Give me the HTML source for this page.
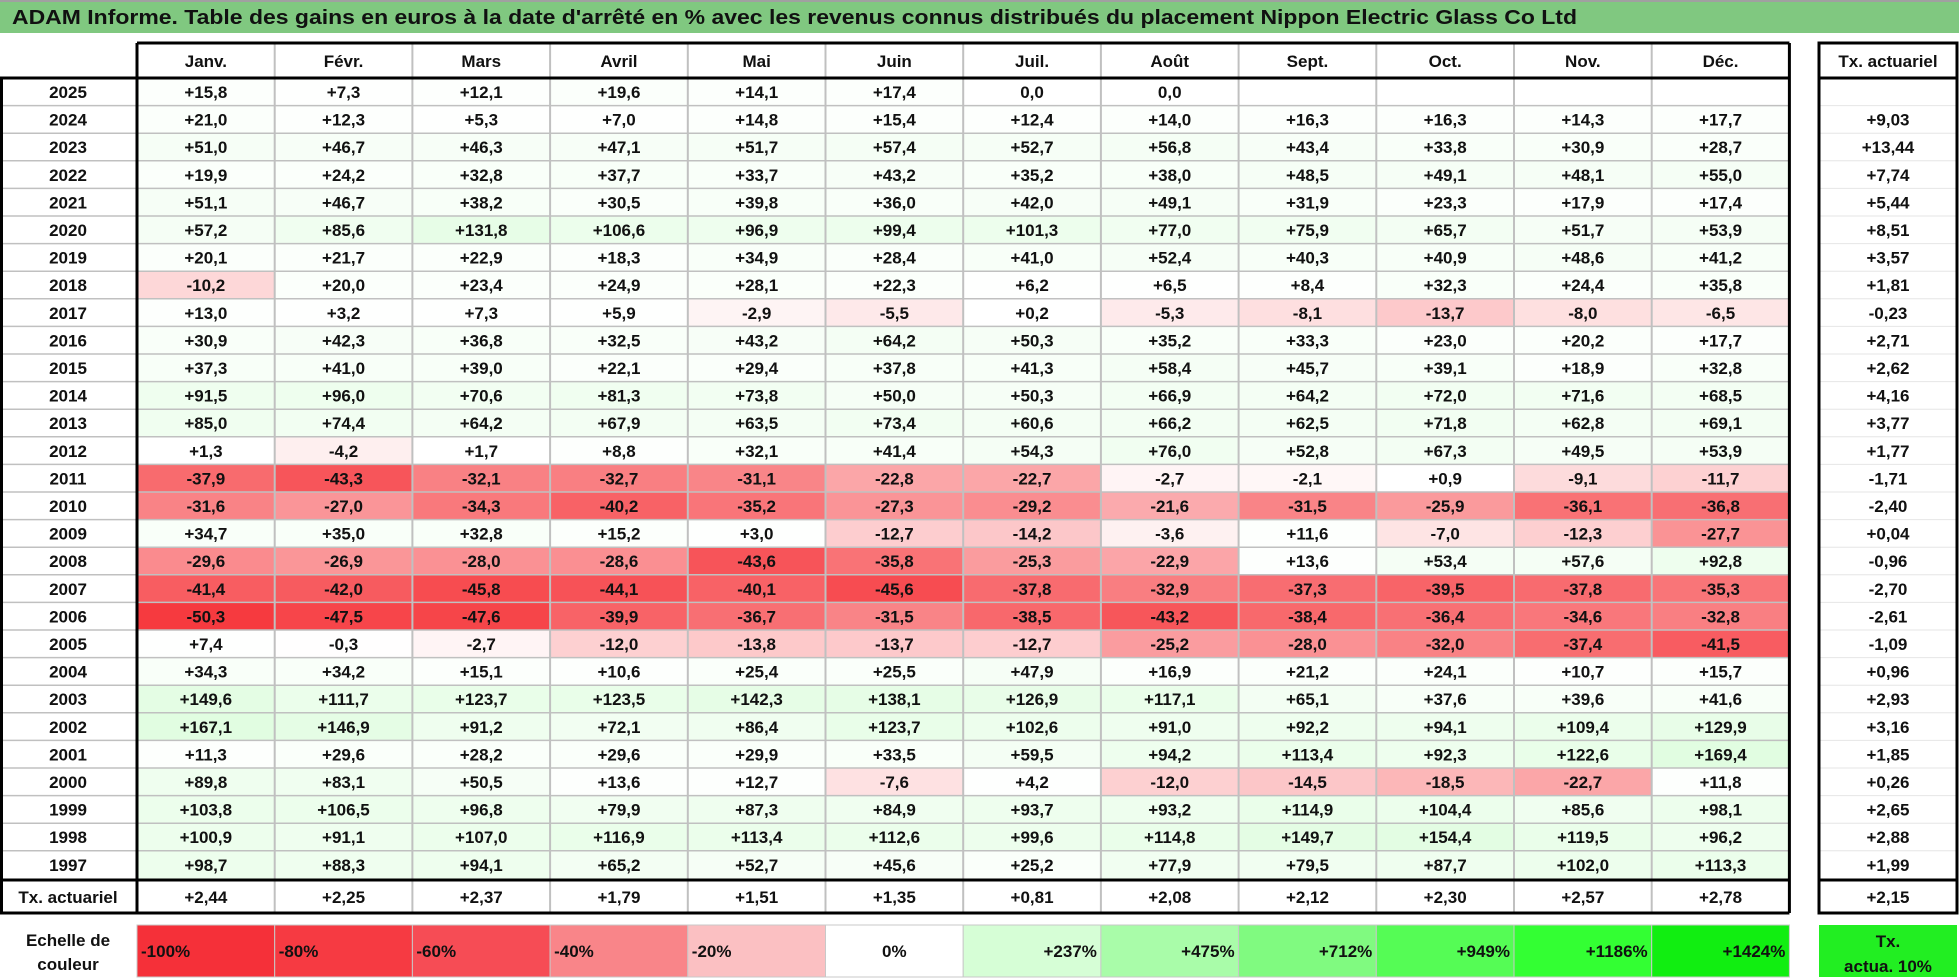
<!DOCTYPE html>
<html><head><meta charset="utf-8"><style>
html,body{margin:0;padding:0;background:#fff;}
svg{display:block;font-family:"Liberation Sans",Arial,sans-serif;font-weight:bold;}
</style></head><body>
<svg id="chart" width="1959" height="978" viewBox="0 0 1959 978" xmlns="http://www.w3.org/2000/svg">
<rect x="0" y="0" width="1959" height="33" fill="#80c880"/>
<line x1="0" y1="1" x2="1959" y2="1" stroke="#a0a0a0" stroke-width="2"/>
<text x="12" y="24" font-size="20" fill="#111" textLength="1565" lengthAdjust="spacingAndGlyphs">ADAM Informe. Table des gains en euros à la date d'arrêté en % avec les revenus connus distribués du placement Nippon Electric Glass Co Ltd</text>
<g id="cells"></g>
<g id="lines"></g>
<g id="texts"></g>
</svg>
<script>
const months = ["Janv.","Févr.","Mars","Avril","Mai","Juin","Juil.","Août","Sept.","Oct.","Nov.","Déc."];
const years = [2025,2024,2023,2022,2021,2020,2019,2018,2017,2016,2015,2014,2013,2012,2011,2010,2009,2008,2007,2006,2005,2004,2003,2002,2001,2000,1999,1998,1997];
const gains = [
[15.8,7.3,12.1,19.6,14.1,17.4,0.0,0.0,null,null,null,null],
[21.0,12.3,5.3,7.0,14.8,15.4,12.4,14.0,16.3,16.3,14.3,17.7],
[51.0,46.7,46.3,47.1,51.7,57.4,52.7,56.8,43.4,33.8,30.9,28.7],
[19.9,24.2,32.8,37.7,33.7,43.2,35.2,38.0,48.5,49.1,48.1,55.0],
[51.1,46.7,38.2,30.5,39.8,36.0,42.0,49.1,31.9,23.3,17.9,17.4],
[57.2,85.6,131.8,106.6,96.9,99.4,101.3,77.0,75.9,65.7,51.7,53.9],
[20.1,21.7,22.9,18.3,34.9,28.4,41.0,52.4,40.3,40.9,48.6,41.2],
[-10.2,20.0,23.4,24.9,28.1,22.3,6.2,6.5,8.4,32.3,24.4,35.8],
[13.0,3.2,7.3,5.9,-2.9,-5.5,0.2,-5.3,-8.1,-13.7,-8.0,-6.5],
[30.9,42.3,36.8,32.5,43.2,64.2,50.3,35.2,33.3,23.0,20.2,17.7],
[37.3,41.0,39.0,22.1,29.4,37.8,41.3,58.4,45.7,39.1,18.9,32.8],
[91.5,96.0,70.6,81.3,73.8,50.0,50.3,66.9,64.2,72.0,71.6,68.5],
[85.0,74.4,64.2,67.9,63.5,73.4,60.6,66.2,62.5,71.8,62.8,69.1],
[1.3,-4.2,1.7,8.8,32.1,41.4,54.3,76.0,52.8,67.3,49.5,53.9],
[-37.9,-43.3,-32.1,-32.7,-31.1,-22.8,-22.7,-2.7,-2.1,0.9,-9.1,-11.7],
[-31.6,-27.0,-34.3,-40.2,-35.2,-27.3,-29.2,-21.6,-31.5,-25.9,-36.1,-36.8],
[34.7,35.0,32.8,15.2,3.0,-12.7,-14.2,-3.6,11.6,-7.0,-12.3,-27.7],
[-29.6,-26.9,-28.0,-28.6,-43.6,-35.8,-25.3,-22.9,13.6,53.4,57.6,92.8],
[-41.4,-42.0,-45.8,-44.1,-40.1,-45.6,-37.8,-32.9,-37.3,-39.5,-37.8,-35.3],
[-50.3,-47.5,-47.6,-39.9,-36.7,-31.5,-38.5,-43.2,-38.4,-36.4,-34.6,-32.8],
[7.4,-0.3,-2.7,-12.0,-13.8,-13.7,-12.7,-25.2,-28.0,-32.0,-37.4,-41.5],
[34.3,34.2,15.1,10.6,25.4,25.5,47.9,16.9,21.2,24.1,10.7,15.7],
[149.6,111.7,123.7,123.5,142.3,138.1,126.9,117.1,65.1,37.6,39.6,41.6],
[167.1,146.9,91.2,72.1,86.4,123.7,102.6,91.0,92.2,94.1,109.4,129.9],
[11.3,29.6,28.2,29.6,29.9,33.5,59.5,94.2,113.4,92.3,122.6,169.4],
[89.8,83.1,50.5,13.6,12.7,-7.6,4.2,-12.0,-14.5,-18.5,-22.7,11.8],
[103.8,106.5,96.8,79.9,87.3,84.9,93.7,93.2,114.9,104.4,85.6,98.1],
[100.9,91.1,107.0,116.9,113.4,112.6,99.6,114.8,149.7,154.4,119.5,96.2],
[98.7,88.3,94.1,65.2,52.7,45.6,25.2,77.9,79.5,87.7,102.0,113.3]
];
const yearRates = [null,9.03,13.44,7.74,5.44,8.51,3.57,1.81,-0.23,2.71,2.62,4.16,3.77,1.77,-1.71,-2.40,0.04,-0.96,-2.70,-2.61,-1.09,0.96,2.93,3.16,1.85,0.26,2.65,2.88,1.99];
const monthRates = [2.44,2.25,2.37,1.79,1.51,1.35,0.81,2.08,2.12,2.30,2.57,2.78];
const totalRate = [2.15];
const scaleLabels = ["-100%","-80%","-60%","-40%","-20%","0%","+237%","+475%","+712%","+949%","+1186%","+1424%"];
const scaleColors = ["#f53039","#f63a42","#f64c55","#f98589","#fbc0c2","#ffffff","#d6fed6","#a9fca9","#80fa80","#55fc55","#33ff33","#11ee11"];

const NS = "http://www.w3.org/2000/svg";
const X0 = 137, CW = 137.7, Y0 = 78, RH = 27.6;
const colX = i => X0 + i * CW;
const rowY = r => Y0 + r * RH;
const gCells = document.getElementById('cells'), gLines = document.getElementById('lines'), gTexts = document.getElementById('texts');
function mk(tag, attrs, parent){ const e = document.createElementNS(NS, tag); for (const k in attrs) e.setAttribute(k, attrs[k]); parent.appendChild(e); return e; }
function fmt1(v){ return v === null ? "" : (v > 0 ? "+" : (v === 0 ? "" : "-")) + Math.abs(v).toFixed(1).replace('.', ','); }
function fmt2(v){ return v === null ? "" : (v >= 0 ? "+" : "-") + Math.abs(v).toFixed(2).replace('.', ','); }
let minV = 0; gains.forEach(r => r.forEach(v => { if (v !== null && v < minV) minV = v; }));
function color(v){
  if (v === null) return "#ffffff";
  if (v < 0) { const t = Math.min(1, v / minV); const r = Math.round(255 - (255 - 246) * t), g = Math.round(255 - (255 - 58) * t), b = Math.round(255 - (255 - 63) * t); return `rgb(${r},${g},${b})`; }
  const t = Math.min(1, v / 1424); return `rgb(${Math.round(255 - 255 * t)},${Math.round(255 - 17 * t)},${Math.round(255 - 255 * t)})`;
}
function txt(s, x, y, anchor, name, size){
  const t = mk('text', {x: x, y: y, 'text-anchor': anchor, 'font-size': size || 17, fill: '#111'}, gTexts);
  
  
  t.textContent = s; return t;
}
// header
months.forEach((m, i) => { txt(m, colX(i) + CW / 2, 67, 'middle', 'month-header', 17); });
txt("Tx. actuariel", 1888, 67, 'middle', 'rate-column-header', 17);
// data cells
years.forEach((yr, r) => {
  txt(String(yr), 68, rowY(r) + 20, 'middle', 'year-label', 17);
  gains[r].forEach((v, i) => {
    const c = mk('rect', {x: colX(i), y: rowY(r), width: CW, height: RH, fill: color(v)}, gCells);
    
    
    if (v !== null) txt(fmt1(v), colX(i) + CW / 2, rowY(r) + 20, 'middle', 'cell-value', 17);
  });
  if (yearRates[r] !== null) txt(fmt2(yearRates[r]), 1888, rowY(r) + 20, 'middle', 'year-rate', 17);
});
// tx actuariel row
txt("Tx. actuariel", 68, 903, 'middle', 'rate-row-label', 17);
monthRates.forEach((v, i) => txt(fmt2(v), colX(i) + CW / 2, 903, 'middle', 'month-rate', 17));
txt(fmt2(totalRate[0]), 1888, 903, 'middle', 'total-rate', 17);
// grid lines
const gray = "#c0c0c0";
for (let i = 1; i < 12; i++) mk('line', {x1: colX(i), y1: 43, x2: colX(i), y2: 913, stroke: gray, 'stroke-width': 2}, gLines);
for (let r = 1; r < years.length; r++) mk('line', {x1: 0, y1: rowY(r), x2: colX(12), y2: rowY(r), stroke: gray, 'stroke-width': 1.5}, gLines);
for (let r = 1; r < years.length; r++) mk('line', {x1: 1819, y1: rowY(r), x2: 1957, y2: rowY(r), stroke: "#e6e6e6", 'stroke-width': 1}, gLines);
const bk = {stroke: '#000', 'stroke-width': 3};
mk('line', Object.assign({x1: X0, y1: 43, x2: colX(12), y2: 43}, bk), gLines);
mk('line', Object.assign({x1: 0, y1: 78, x2: colX(12), y2: 78}, bk), gLines);
mk('line', Object.assign({x1: 0, y1: 880, x2: colX(12), y2: 880}, bk), gLines);
mk('line', Object.assign({x1: 0, y1: 913, x2: colX(12), y2: 913}, bk), gLines);
mk('line', Object.assign({x1: X0, y1: 43, x2: X0, y2: 913}, bk), gLines);
mk('line', Object.assign({x1: colX(12), y1: 43, x2: colX(12), y2: 913}, bk), gLines);
mk('line', Object.assign({x1: 1.5, y1: 78, x2: 1.5, y2: 913}, bk), gLines);
mk('rect', {x: 1819, y: 43, width: 138, height: 870, fill: 'none', stroke: '#000', 'stroke-width': 3}, gLines);
mk('line', Object.assign({x1: 1819, y1: 78, x2: 1957, y2: 78}, bk), gLines);
mk('line', Object.assign({x1: 1819, y1: 880, x2: 1957, y2: 880}, bk), gLines);
// legend
txt("Echelle de", 68, 946, 'middle', 'legend-title', 17);
txt("couleur", 68, 970, 'middle', 'legend-title', 17);
scaleLabels.forEach((l, i) => {
  const r = mk('rect', {x: colX(i), y: 925, width: CW, height: 52, fill: scaleColors[i], stroke: '#c8c8c8', 'stroke-width': 1}, gCells);
  
  
  let x = colX(i) + 4, a = 'start';
  if (i === 5) { x = colX(i) + CW / 2; a = 'middle'; } else if (i > 5) { x = colX(i + 1) - 4; a = 'end'; }
  txt(l, x, 957, a, 'legend-label', 17);
});
const tb = mk('rect', {x: 1819, y: 925, width: 138, height: 52, fill: '#22ee22'}, gCells);


txt("Tx.", 1888, 947, 'middle', 'legend-rate-label', 17);
txt("actua. 10%", 1888, 972, 'middle', 'legend-rate-label', 17);
</script>
</body></html>
